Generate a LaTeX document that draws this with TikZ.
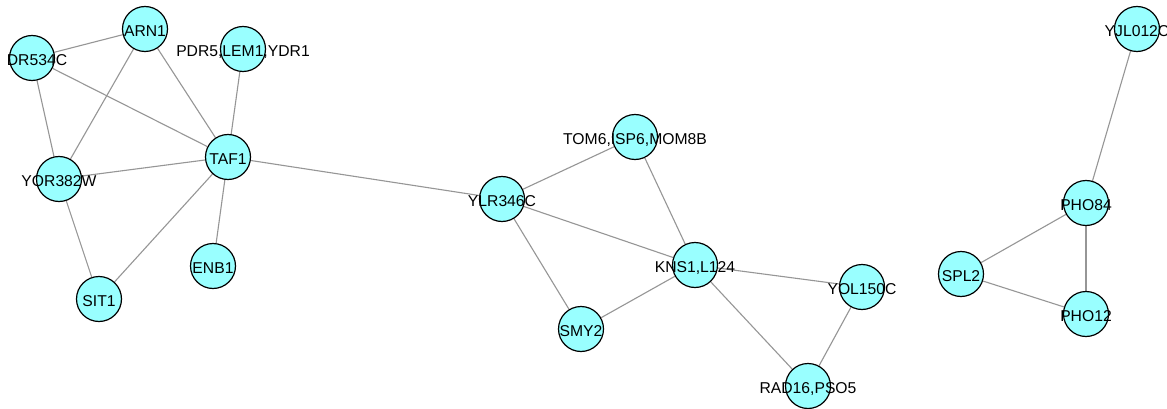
\documentclass[tikz,border=0pt]{standalone}
\usepackage{fontspec}
\setmainfont{Liberation Sans}
\usetikzlibrary{backgrounds}
\definecolor{nodefill}{RGB}{153,255,255}
\definecolor{edgegray}{RGB}{150,150,150}
\tikzset{
  gene/.style={circle, draw=black, line width=1.2pt, fill=nodefill, minimum size=45pt, inner sep=0pt},
  genelabel/.style={font=\fontsize{15.7}{18}\selectfont, text height=11.2pt, text depth=0pt, inner sep=0pt, yshift=-1.5pt},
  link/.style={draw=edgegray, line width=1.1pt}
}
\begin{document}
\begin{tikzpicture}[x=1pt,y=-1pt]
\useasboundingbox (0,0) rectangle (1167,409);
% nodes
\node[gene, label={[genelabel, xshift=5pt]center:DR534C}] (ydr) at (32,58) {};
\node[gene, label={[genelabel]center:ARN1}] (arn) at (145,29) {};
\node[gene, label={[genelabel]center:PDR5,LEM1,YDR1}] (pdr) at (243,49) {};
\node[gene, label={[genelabel]center:TAF1}] (taf) at (228,157) {};
\node[gene, label={[genelabel]center:YOR382W}] (yor) at (59,179) {};
\node[gene, label={[genelabel]center:ENB1}] (enb) at (213,266) {};
\node[gene, label={[genelabel]center:SIT1}] (sit) at (99,299) {};
\node[gene, label={[genelabel]center:TOM6,ISP6,MOM8B}] (tom) at (635,137) {};
\node[gene, label={[genelabel]center:YLR346C}] (ylr) at (502,199) {};
\node[gene, label={[genelabel]center:KNS1,L124}] (kns) at (695,265) {};
\node[gene, label={[genelabel]center:SMY2}] (smy) at (581,329) {};
\node[gene, label={[genelabel]center:YOL150C}] (yol) at (862,287) {};
\node[gene, label={[genelabel]center:RAD16,PSO5}] (rad) at (808,386) {};
\node[gene, label={[genelabel]center:YJL012C}] (yjl) at (1137,29) {};
\node[gene, label={[genelabel]center:PHO84}] (p84) at (1086,203) {};
\node[gene, label={[genelabel]center:SPL2}] (spl) at (961,274) {};
\node[gene, label={[genelabel]center:PHO12}] (p12) at (1086,314) {};
% edges
\begin{scope}[on background layer]
\fill[white] (0,0) rectangle (1167,409);
\draw[link] (ydr) -- (arn);
\draw[link] (ydr) -- (yor);
\draw[link] (ydr) -- (taf);
\draw[link] (arn) -- (yor);
\draw[link] (arn) -- (taf);
\draw[link] (pdr) -- (taf);
\draw[link] (yor) -- (taf);
\draw[link] (yor) -- (sit);
\draw[link] (taf) -- (sit);
\draw[link] (taf) -- (enb);
\draw[link] (taf) -- (ylr);
\draw[link] (ylr) -- (tom);
\draw[link] (ylr) -- (kns);
\draw[link] (ylr) -- (smy);
\draw[link] (tom) -- (kns);
\draw[link] (kns) -- (smy);
\draw[link] (kns) -- (yol);
\draw[link] (kns) -- (rad);
\draw[link] (yol) -- (rad);
\draw[link] (yjl) -- (p84);
\draw[link] (p84) -- (spl);
\draw[link] (p84) -- (p12);
\draw[link] (spl) -- (p12);
\end{scope}
\end{tikzpicture}
\end{document}
